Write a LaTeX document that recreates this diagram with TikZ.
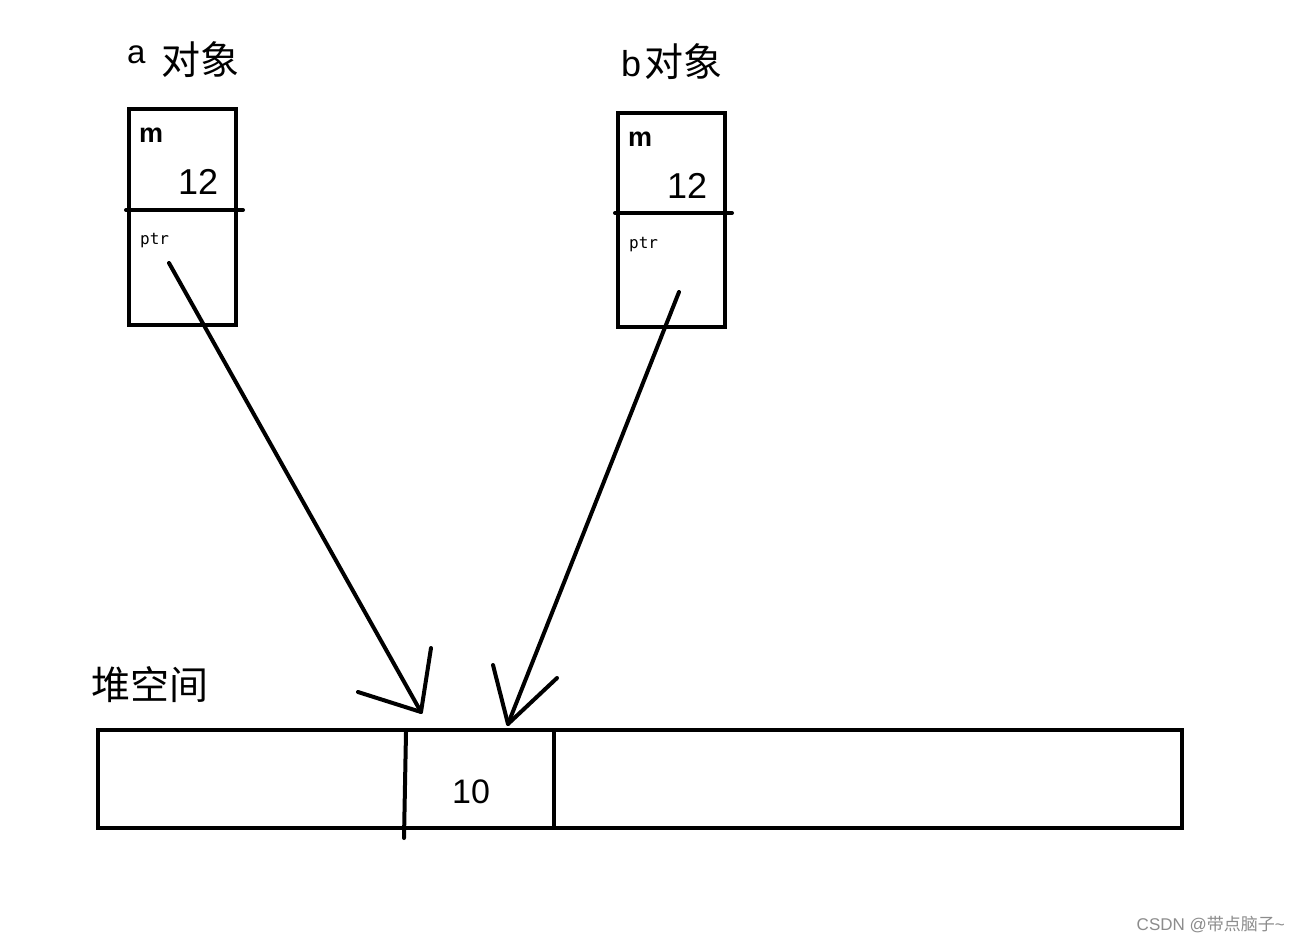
\documentclass[tikz,border=0pt]{standalone}
\usepackage{fontspec}
\setmainfont{Liberation Sans}
\newfontfamily\cjk{Noto Sans CJK SC}
\newfontfamily\mono{DejaVu Sans Mono}
\begin{document}
\begin{tikzpicture}[x=1pt,y=-1pt,
  stroke/.style={line width=4pt, line cap=round, line join=round},
  cell/.style={draw, line width=4pt, rectangle, inner sep=0pt, outer sep=0pt, anchor=north west},
  lbl/.style={inner sep=0pt, anchor=base west},
  cjkfont/.style={font=\cjk\fontsize{39}{39}\selectfont}]
\useasboundingbox (0,0) rectangle (1300,943);
\fill[white] (0,0) rectangle (1300,943);

% a object
\node[lbl, font=\fontsize{33}{33}\selectfont] (alab) at (127,63) {a};
\node[lbl, cjkfont] (atitle) at (161,74) {对象};
\node[cell, minimum width=107pt, minimum height=216pt] (abox) at (129,109) {};
\draw[stroke] (126,210) coordinate (ad1) -- (243,210) coordinate (ad2);
\node[lbl, font=\bfseries\fontsize{27}{27}\selectfont] (am) at (139,142) {m};
\node[lbl, font=\fontsize{36}{36}\selectfont] (aval) at (178,194) {12};
\node[lbl, font=\mono\fontsize{16}{16}\selectfont] (aptr) at (140,244) {ptr};

% b object
\node[lbl, font=\fontsize{36}{36}\selectfont] (blab) at (621,76) {b};
\node[lbl, cjkfont] (btitle) at (644,76) {对象};
\node[cell, minimum width=107pt, minimum height=214pt] (bbox) at (618,113) {};
\draw[stroke] (615,213) coordinate (bd1) -- (732,213) coordinate (bd2);
\node[lbl, font=\bfseries\fontsize{27}{27}\selectfont] (bm) at (628,146) {m};
\node[lbl, font=\fontsize{36}{36}\selectfont] (bval) at (667,198) {12};
\node[lbl, font=\mono\fontsize{16}{16}\selectfont] (bptr) at (629,248) {ptr};

% heap
\node[lbl, cjkfont] (heaplab) at (91,699) {堆空间};
\node[cell, minimum width=1084pt, minimum height=98pt] (heap) at (98,730) {};
\draw[stroke] (406,732) coordinate (h1t) -- (404,838) coordinate (h1b);
\draw[stroke] (554,732) coordinate (h2t) -- (554,826) coordinate (h2b);
\node[lbl, font=\fontsize{34}{34}\selectfont] (hval) at (452,803) {10};

% arrow a
\coordinate (as) at (169,263);
\coordinate (at) at (421,712);
\coordinate (aw1) at (358,692);
\coordinate (aw2) at (431,648);
\draw[stroke] (as) -- (at);
\draw[stroke] (aw1) -- (at) -- (aw2);

% arrow b
\coordinate (bs) at (679,292);
\coordinate (bt) at (508,724);
\coordinate (bw1) at (493,665);
\coordinate (bw2) at (557,678);
\draw[stroke] (bs) -- (bt);
\draw[stroke] (bw1) -- (bt) -- (bw2);

% watermark
\node[inner sep=0pt, anchor=base east, text=black!45, font=\fontsize{17}{17}\selectfont] (wm) at (1285,930) {CSDN @{\cjk 带点脑子}\textasciitilde};
\end{tikzpicture}
\end{document}
